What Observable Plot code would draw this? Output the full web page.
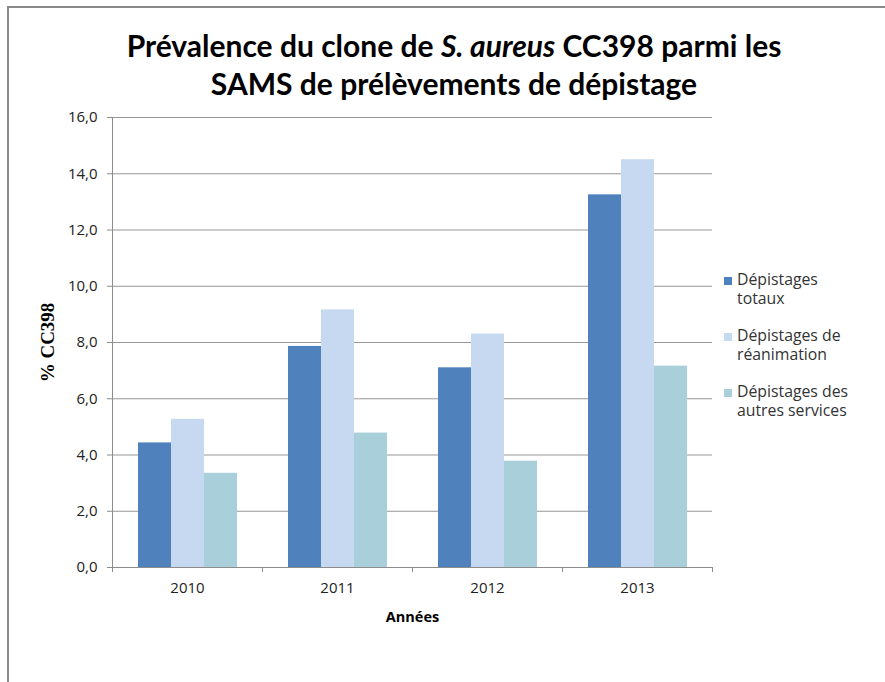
<!DOCTYPE html>
<html><head><meta charset="utf-8">
<script src="https://cdn.jsdelivr.net/npm/d3@7"></script>
<script src="https://cdn.jsdelivr.net/npm/@observablehq/plot@0.6"></script>
<style>
body{margin:0;background:#fff;}
#wrap{position:relative;width:885px;height:682px;overflow:hidden;font-family:"Open Sans",sans-serif;}
#border{position:absolute;left:7px;top:6px;width:900px;height:700px;border-left:2px solid #8a8a8a;border-top:2px solid #8a8a8a;}
#title{position:absolute;left:0;width:908px;top:26px;text-align:center;font-family:Lato,sans-serif;font-weight:bold;font-size:30px;line-height:38px;color:#000;}
#legend{position:absolute;left:724px;top:270px;font-size:15.8px;color:#333;}
.entry{display:flex;align-items:flex-start;margin-bottom:18px;}
.key{width:8px;height:8px;margin-top:7px;margin-right:5px;flex:none;}
.lab{width:130px;line-height:19px;}
#chart svg{position:absolute;left:0;top:0;}
g[aria-label="y-axis label"] text{font-family:"Liberation Serif",serif;font-weight:bold;font-size:19px;fill:#000;}
g[aria-label="fx-axis label"] text{font-weight:bold;font-size:14.5px;fill:#000;}
g[aria-label="fx-axis tick label"] text{font-size:15px;}
g[aria-label="y-axis tick label"] text{font-size:15px;}
</style></head>
<body>
<div id="wrap">
  <div id="chart"></div>
  <div id="border"></div>
  <div id="title">Prévalence du clone de <i>S. aureus</i> CC398 parmi les<br>SAMS de prélèvements de dépistage</div>
  <div id="legend"></div>
</div>
<script>
const years = ["2010", "2011", "2012", "2013"];
const series = ["Dépistages totaux", "Dépistages de réanimation", "Dépistages des autres services"];
const totaux = [4.43, 7.86, 7.10, 13.25];
const reanimation = [5.27, 9.16, 8.30, 14.50];
const autres = [3.35, 4.78, 3.78, 7.16];
const colors = ["#4f81bd", "#c6d9f1", "#a9cfdb"];
const yTicks = [0, 2, 4, 6, 8, 10, 12, 14, 16];

const valuesBySeries = [totaux, reanimation, autres];
const data = years.flatMap((year, i) =>
  series.map((serie, j) => ({year, serie, value: valuesBySeries[j][i]})));

const axisColor = "#8c8c8c";
const chart = Plot.plot({
  width: 885,
  height: 682,
  marginLeft: 112,
  marginRight: 173,
  marginTop: 117,
  marginBottom: 115,
  style: {fontFamily: "'Open Sans', sans-serif", fontSize: "14px", color: "#222", background: "transparent"},
  fx: {domain: years, paddingInner: 0, paddingOuter: 0},
  x: {domain: series, paddingInner: 0, paddingOuter: 0.75, axis: null},
  y: {domain: [0, 16]},
  color: {domain: series, range: colors},
  marks: [
    Plot.gridY(yTicks, {stroke: axisColor, strokeOpacity: 0.9}),
    Plot.barY(data, {fx: "year", x: "serie", y: "value", fill: "serie"}),
    Plot.ruleY([0], {stroke: axisColor}),
    Plot.frame({anchor: "left", facet: "super", stroke: axisColor}),
    Plot.axisY(yTicks, {
      tickSize: 5, tickPadding: 10, stroke: axisColor,
      tickFormat: d => d.toFixed(1).replace(".", ","),
      label: "% CC398", labelAnchor: "center", labelOffset: 72, labelArrow: "none"
    }),
    Plot.axisFx({anchor: "bottom", tickSize: 0, tickPadding: 15, label: "Années", labelAnchor: "center", labelOffset: 54, labelArrow: "none"}),
    Plot.axisFx({anchor: "bottom", tickSize: 5, tickFormat: () => "", dx: -75, label: null, stroke: axisColor}),
    Plot.axisFx({anchor: "bottom", tickSize: 5, tickFormat: () => "", dx: 75, label: null, stroke: axisColor})
  ]
});
document.getElementById("chart").appendChild(chart);

const legend = document.getElementById("legend");
series.forEach((s, i) => {
  const e = document.createElement("div");
  e.className = "entry";
  e.innerHTML = `<span class="key" style="background:${colors[i]}"></span><span class="lab">${s}</span>`;
  legend.appendChild(e);
});
</script>
</body></html>
